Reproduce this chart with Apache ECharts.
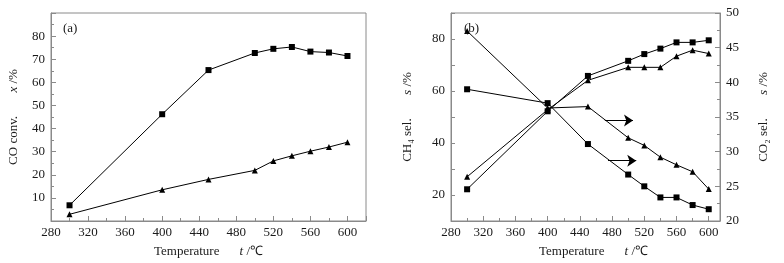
<!DOCTYPE html>
<html>
<head>
<meta charset="utf-8">
<script src="https://cdn.jsdelivr.net/npm/echarts@6/dist/echarts.min.js"></script>
<style>
  html, body { margin: 0; padding: 0; background: #fff; }
  #chart { width: 784px; height: 263px; }
</style>
</head>
<body>
<div id="chart"></div>
<script>
const temps = [300, 400, 450, 500, 520, 540, 560, 580, 600];
// (a) CO conversion
const coConvSquare = [6.8, 46.2, 65.3, 72.7, 74.5, 75.3, 73.3, 72.9, 71.4];
const coConvTriangle = [2.9, 13.5, 18.0, 21.9, 26.0, 28.2, 30.2, 32.0, 34.1];
// (b) CH4 selectivity (left axis)
const ch4Square = [22.2, 52.2, 65.8, 71.6, 74.2, 76.3, 78.7, 78.7, 79.5];
const ch4Triangle = [27.0, 52.8, 64.1, 69.1, 69.1, 69.1, 73.4, 75.7, 74.4];
// (b) CO2 selectivity (right axis)
const co2Square = [39.0, 37.0, 31.1, 26.7, 25.0, 23.4, 23.4, 22.3, 21.7];
const co2Triangle = [47.4, 36.3, 36.5, 32.0, 30.9, 29.2, 28.1, 27.1, 24.6];
// arrows pointing at the right axis: [x0, x1, y]
const arrowTri = [471, 506, 34.5];
const arrowSq = [475, 510, 28.7];

const chart = echarts.init(document.getElementById('chart'));

const font = 'Liberation Serif';
const gray = '#8a8a8a';
const ink = '#1a1a1a';

const pair = arr => temps.map((t, i) => [t, arr[i]]);

const nameRich = {
    n: { fontFamily: font, fontSize: 13, color: ink },
    i: { fontFamily: font, fontSize: 13, color: ink, fontStyle: 'italic' }
};

function xAxisFor(gridIndex, max) {
    return {
        type: 'value',
        gridIndex: gridIndex,
        min: 280,
        max: max,
        interval: 40,
        name: '{n|Temperature}      {i|t} {n|/℃}',
        nameLocation: 'middle',
        nameGap: 24,
        nameTextStyle: {
            padding: gridIndex === 1 ? [0, 0, 0, 16] : 0,
            rich: nameRich
        },
        axisLine: { lineStyle: { color: gray } },
        axisTick: { inside: true, length: 5, lineStyle: { color: gray } },
        minorTick: { show: true, splitNumber: 2, length: 3, lineStyle: { color: gray } },
        splitLine: { show: false },
        axisLabel: {
            margin: 5,
            fontFamily: font,
            fontSize: 13,
            color: ink,
            formatter: v => (v <= 600 && v % 40 === 0) ? v : ''
        }
    };
}

function arrowLine(a) {
    return {
        silent: true,
        symbol: ['none', 'arrow'],
        symbolSize: 9,
        label: { show: false },
        itemStyle: { color: '#000' },
        lineStyle: { color: '#000', width: 1, type: 'solid' },
        data: [[{ coord: [a[0], a[2]] }, { coord: [a[1], a[2]] }]]
    };
}

const option = {
    animation: false,
    backgroundColor: '#fff',
    title: [
        { text: '(a)', left: 58, top: 17, textStyle: { fontFamily: font, fontSize: 13, fontWeight: 'normal', color: ink } },
        { text: '(b)', left: 459, top: 17, textStyle: { fontFamily: font, fontSize: 13, fontWeight: 'normal', color: ink } }
    ],
    grid: [
        { left: 51, top: 13, width: 315, height: 208, show: true, borderColor: gray, borderWidth: 1 },
        { left: 451, top: 13, width: 269, height: 208, show: true, borderColor: gray, borderWidth: 1 }
    ],
    xAxis: [xAxisFor(0, 620), xAxisFor(1, 614)],
    yAxis: [
        {
            type: 'value',
            gridIndex: 0,
            min: 0,
            max: 90,
            interval: 10,
            name: '{n|CO conv.}       {i|x} {n|/%}',
            nameLocation: 'middle',
            nameRotate: 90,
            nameGap: 31,
            nameTextStyle: { rich: nameRich },
            axisLine: { show: true, lineStyle: { color: gray } },
            axisTick: { show: true, inside: true, length: 5, lineStyle: { color: gray } },
            minorTick: { show: true, splitNumber: 2, length: 3, lineStyle: { color: gray } },
            splitLine: { show: false },
            axisLabel: {
                margin: 6, fontFamily: font, fontSize: 13, color: ink,
                formatter: v => (v > 0 && v < 90) ? v : ''
            }
        },
        {
            type: 'value',
            gridIndex: 1,
            position: 'left',
            min: 10,
            max: 90,
            interval: 10,
            name: '{n|CH₄ sel.}       {i|s} {n|/%}',
            nameLocation: 'middle',
            nameRotate: 90,
            nameGap: 37,
            nameTextStyle: { rich: nameRich },
            axisLine: { show: true, lineStyle: { color: gray } },
            axisTick: { show: true, inside: true, length: 4, lineStyle: { color: gray } },
            splitLine: { show: false },
            axisLabel: {
                margin: 6, fontFamily: font, fontSize: 13, color: ink,
                formatter: v => (v % 20 === 0 && v < 90) ? v : ''
            }
        },
        {
            type: 'value',
            gridIndex: 1,
            position: 'right',
            min: 20,
            max: 50,
            interval: 5,
            name: '{n|CO₂ sel.}       {i|s} {n|/%}',
            nameLocation: 'middle',
            nameRotate: 90,
            nameGap: 37,
            nameTextStyle: { rich: nameRich },
            axisLine: { show: true, lineStyle: { color: gray } },
            axisTick: { show: true, inside: true, length: 5, lineStyle: { color: gray } },
            minorTick: { show: true, splitNumber: 2, length: 3, lineStyle: { color: gray } },
            splitLine: { show: false },
            axisLabel: { margin: 6, fontFamily: font, fontSize: 13, color: ink }
        }
    ],
    series: [
        {
            type: 'line', xAxisIndex: 0, yAxisIndex: 0, data: pair(coConvSquare),
            symbol: 'rect', symbolSize: 6,
            itemStyle: { color: '#000' }, lineStyle: { color: '#000', width: 1 }
        },
        {
            type: 'line', xAxisIndex: 0, yAxisIndex: 0, data: pair(coConvTriangle),
            symbol: 'triangle', symbolSize: 6,
            itemStyle: { color: '#000' }, lineStyle: { color: '#000', width: 1 }
        },
        {
            type: 'line', xAxisIndex: 1, yAxisIndex: 1, data: pair(ch4Square),
            symbol: 'rect', symbolSize: 6,
            itemStyle: { color: '#000' }, lineStyle: { color: '#000', width: 1 }
        },
        {
            type: 'line', xAxisIndex: 1, yAxisIndex: 1, data: pair(ch4Triangle),
            symbol: 'triangle', symbolSize: 6,
            itemStyle: { color: '#000' }, lineStyle: { color: '#000', width: 1 }
        },
        {
            type: 'line', xAxisIndex: 1, yAxisIndex: 2, data: pair(co2Square),
            symbol: 'rect', symbolSize: 6,
            itemStyle: { color: '#000' }, lineStyle: { color: '#000', width: 1 },
            markLine: arrowLine(arrowSq)
        },
        {
            type: 'line', xAxisIndex: 1, yAxisIndex: 2, data: pair(co2Triangle),
            symbol: 'triangle', symbolSize: 6,
            itemStyle: { color: '#000' }, lineStyle: { color: '#000', width: 1 },
            markLine: arrowLine(arrowTri)
        }
    ]
};

chart.setOption(option);
</script>
</body>
</html>
